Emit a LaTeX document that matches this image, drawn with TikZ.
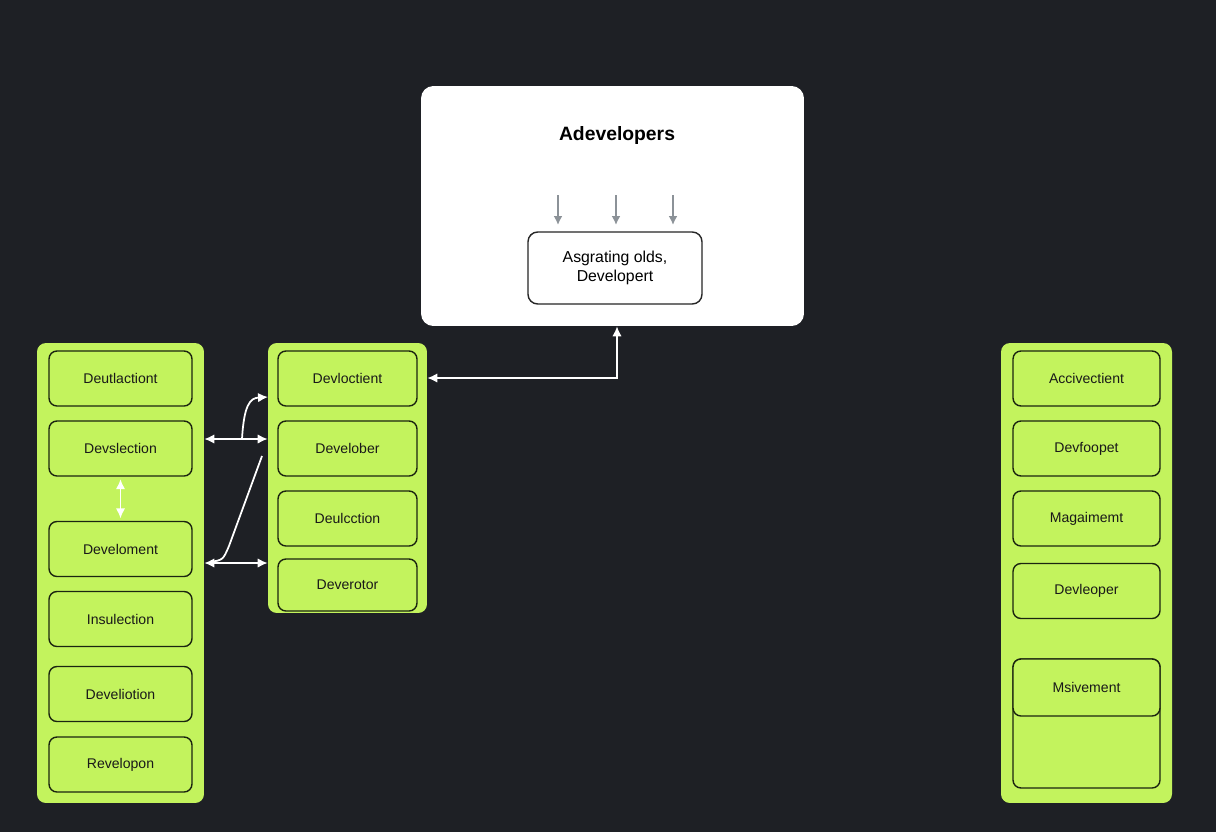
\documentclass[tikz,border=0pt]{standalone}
\usepackage{fontspec}
\setmainfont{Liberation Sans}
\usepackage{tikz}
\usetikzlibrary{arrows.meta,positioning,calc}
\definecolor{cbg}{HTML}{1E2025}
\definecolor{clane}{HTML}{C3F35D}
\definecolor{claneD}{HTML}{1B2410}
\definecolor{cgray}{HTML}{8C9298}
\tikzset{
  lane/.style={draw=none, fill=clane, rounded corners=5pt, inner sep=0pt},
  item/.style={draw=claneD, fill=clane, rounded corners=4.5pt, line width=0.8pt,
               minimum width=2.86cm, minimum height=1.1cm, align=center,
               font=\fontsize{8}{9.6}\selectfont, text=black!90},
  panel/.style={fill=white, rounded corners=7pt, minimum width=7.66cm,
                minimum height=4.8cm, inner sep=0pt},
  inbox/.style={draw=black!85, fill=white, rounded corners=5.5pt, line width=0.8pt,
                minimum width=3.48cm, minimum height=1.44cm, align=center,
                font=\fontsize{9}{11}\selectfont},
  flow/.style={white, line width=1pt, -{Latex[length=2mm,width=1.9mm]}},
  dflow/.style={white, line width=1pt, {Latex[length=2mm,width=1.9mm]}-{Latex[length=2mm,width=1.9mm]}},
  gflow/.style={cgray, line width=1pt, -{Latex[length=1.8mm,width=1.8mm]}},
}
\begin{document}
\begin{tikzpicture}[x=0.02cm, y=-0.02cm]
  \fill[cbg] (0,0) rectangle (1216,832);

  % top panel
  \node[panel] (panel) at (612.5,206) {};
  \node[font=\bfseries\fontsize{11}{13}\selectfont] (title) at (617,135) {Adevelopers};
  \node[inbox] (inner) at (615,268) {Asgrating olds,\\Developert};
  \foreach \x in {558,616,673}
    \draw[gflow] (\x,195) -- (\x,225);

  % left lane
  \node[lane, minimum width=3.34cm, minimum height=9.2cm] (lane1) at (120.5,573) {};
  \node[item] (a1) at (120.5,378.5) {Deutlactiont};
  \node[item] (a2) at (120.5,448.5) {Devslection};
  \node[item] (a3) at (120.5,549) {Develoment};
  \node[item] (a4) at (120.5,619) {Insulection};
  \node[item] (a5) at (120.5,694) {Develiotion};
  \node[item] (a6) at (120.5,764.5) {Revelopon};
  \draw[dflow] ([yshift=-0.05cm]a2.south) -- ([yshift=0.05cm]a3.north);

  % middle lane
  \node[lane, minimum width=3.18cm, minimum height=5.4cm] (lane2) at (347.5,478) {};
  \node[item, minimum width=2.78cm] (b1) at (347.5,378.5) {Devloctient};
  \node[item, minimum width=2.78cm] (b2) at (347.5,448.5) {Develober};
  \node[item, minimum width=2.78cm] (b3) at (347.5,518.5) {Deulcction};
  \node[item, minimum width=2.78cm, minimum height=1.04cm] (b4) at (347.5,585) {Deverotor};

  % right lane
  \node[lane, minimum width=3.42cm, minimum height=9.2cm] (lane3) at (1086.5,573) {};
  \node[item, minimum width=2.94cm] (c1) at (1086.5,378.5) {Accivectient};
  \node[item, minimum width=2.94cm] (c2) at (1086.5,448.5) {Devfoopet};
  \node[item, minimum width=2.94cm] (c3) at (1086.5,518.5) {Magaimemt};
  \node[item, minimum width=2.94cm] (c4) at (1086.5,591) {Devleoper};
  \node[item, minimum width=2.94cm, minimum height=2.58cm] (c6) at (1086.5,723.5) {};
  \node[item, minimum width=2.94cm, minimum height=1.14cm] (c5) at (1086.5,687.5) {Msivement};

  % connectors
  \coordinate (j1) at (242,439);
  \coordinate (j2) at (230,563);
  \coordinate (k1) at (268,397);
  \coordinate (k2) at (262,456);
  \coordinate (k3) at (617,378);
  \draw[dflow] (lane1.east |- j1) -- (lane2.west |- j1);
  \draw[dflow] (lane1.east |- j2) -- (lane2.west |- j2);
  \draw[flow] (j1) .. controls (244,405) and (250,398) .. (k1);
  \draw[white, line width=1pt] (k2) -- (229,546) .. controls (223,560) .. (210,562);
  \draw[dflow] (lane2.east |- k3) -- (k3) -- (panel.south -| k3);
\end{tikzpicture}
\end{document}
